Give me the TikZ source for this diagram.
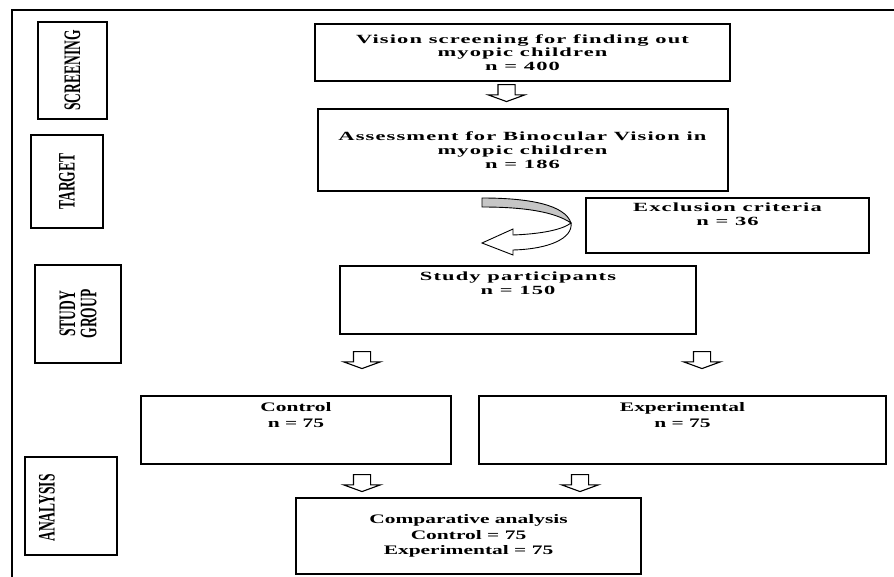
\documentclass[tikz,border=0pt]{standalone}
\usepackage{fontspec}
\setmainfont{Liberation Serif}
\newfontfamily\spreadfont[FakeStretch=1.8,LetterSpace=9]{Liberation Serif}
\newfontfamily\flowfont[FakeStretch=1.65]{Liberation Serif}
\usetikzlibrary{shapes.arrows,positioning}

\begin{document}
\begin{tikzpicture}[
      x=1pt, y=1pt,
      block/.style={rectangle, draw, line width=2pt, align=center, inner sep=2pt},
      upper/.style={block, font=\spreadfont\bfseries\fontsize{12.5}{13.8}\selectfont},
      lower/.style={block, font=\flowfont\bfseries\fontsize{13}{15.5}\selectfont},
      side/.style={rectangle, draw, line width=1.8pt, align=center, inner sep=0pt, rotate=90, font=\bfseries\fontsize{13.5}{13.5}\selectfont},
      sidetext/.style={rotate=90, inner sep=0pt, font=\bfseries\fontsize{13.5}{13.5}\selectfont},
      downarrow/.style={single arrow, draw, line width=1.1pt, fill=white, rotate=-90, minimum height=17pt, minimum width=36pt, inner xsep=0pt, inner ysep=8pt, single arrow head extend=10pt, single arrow tip angle=140},
      frame/.style={line width=2.2pt}
    ]
      \useasboundingbox (0,0) rectangle (894,-577);
      \draw[frame] (894,-10) -- (12,-10) -- (12,-577);

      % stage labels
      \node[side, minimum width=97pt, minimum height=69pt] (screening) at (72.5,-70.5) {\scalebox{1}[1.75]{SCREENING}};
      \node[side, minimum width=93pt, minimum height=72pt] (target) at (67,-181.5) {\scalebox{1}[1.75]{TARGET}};
      \node[side, minimum width=98pt, minimum height=86pt] (group) at (78,-314) {\scalebox{1}[1.75]{\shortstack{STUDY\\GROUP}}};
      \node[side, minimum width=98pt, minimum height=92pt] (analysis) at (71,-506) {};
      \node[sidetext] (analysislabel) at (47,-508) {\scalebox{1}[1.75]{ANALYSIS}};

      % flow boxes
      \node[upper, minimum width=415pt, minimum height=57pt] (screen) at (522.5,-52.5) {Vision screening for finding out\\myopic children\\n = 400};
      \node[upper, minimum width=410pt, minimum height=82pt, below=26pt of screen] (assess) {Assessment for Binocular Vision in\\myopic children\\n = 186};
      \node[upper, minimum width=283pt, minimum height=55pt, text depth=22pt] (exclude) at (727.5,-225.5) {Exclusion criteria\\n = 36};
      \node[upper, minimum width=356pt, minimum height=68pt, text depth=33pt] (study) at (518,-300) {Study participants\\n = 150};
      \node[lower, minimum width=310pt, minimum height=68pt, text depth=30pt] (control) at (296,-430) {Control\\n = 75};
      \node[lower, minimum width=407pt, minimum height=68pt, text depth=30pt] (exper) at (682.5,-430) {Experimental\\n = 75};
      \node[lower, minimum width=345pt, minimum height=76pt] (compare) at (468.5,-536) {Comparative analysis\\Control = 75\\Experimental = 75};

      % block arrows
      \node[downarrow] (arr1) at (506.5,-91.5) {};
      \node[downarrow] (arr2) at (362,-358.5) {};
      \node[downarrow] (arr3) at (702,-358.5) {};
      \node[downarrow] (arr4) at (362,-481.5) {};
      \node[downarrow] (arr5) at (580,-481.5) {};

      % curved arrow
      \draw[line width=0.9pt, fill=gray!45] (482,-198) .. controls (530,-198) and (565,-205) .. (571,-223) .. controls (555,-212) and (525,-207) .. (482,-207) -- cycle;
      \draw[line width=0.9pt, fill=white] (571,-223) .. controls (573,-238) and (550,-249) .. (513,-250) -- (513,-255) -- (482,-243) -- (513,-229) -- (513,-235) .. controls (540,-234) and (562,-230) .. (571,-223) -- cycle;
    \end{tikzpicture}
\end{document}
